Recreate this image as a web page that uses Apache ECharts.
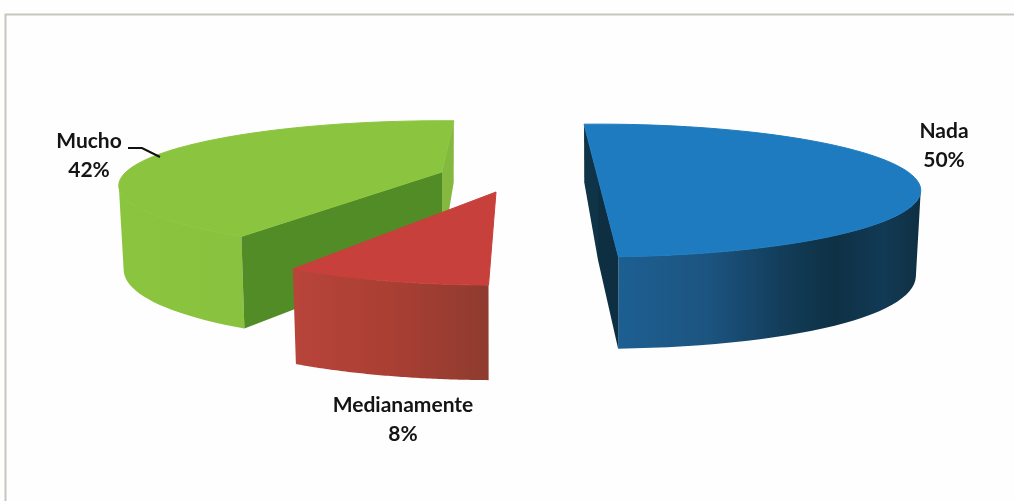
<!DOCTYPE html>
<html>
<head>
<meta charset="utf-8">
<style>html,body{margin:0;padding:0;background:#fefefe}#c{width:1014px;height:501px}</style>
<script src="https://cdn.jsdelivr.net/npm/echarts@6/dist/echarts.min.js"></script>
</head>
<body>
<div id="c"></div>
<script>
// data
var categories = ['Nada', 'Medianamente', 'Mucho'];
var values = [50, 8, 42];

// look of each slice (same order as categories)
var topColors = ['#1f7bbf', '#c7403b', '#8bc53f'];
var wallStops = [
  [[0, '#1d5f92'], [0.3, '#1c5480'], [0.55, '#123c58'], [0.72, '#0e3145'], [0.88, '#123a55'], [1, '#0f2f42']],
  [[0, '#b8443a'], [0.5, '#aa3f34'], [1, '#8f3b2f']],
  [[0, '#8bc53f'], [1, '#89c23e']]
];
var startFaceColors = ['#0f3347', null, '#528c26'];
var endFaceColors = ['#0e2f42', null, '#84b83e'];

// layout of the exploded 3D slices
var START_DEG = -93;
var apexX = [598, 496, 442];
var apexY = [178, 192, 172];
var radius = [317, 313, 316];
var depth = [64, 68, 62];
var persp = [0.188, 0.27, 0.21];
var rotDeg = [0, 4, 5.6];
var h0 = [82, 95, 80.6], h1 = [17, 0, 16], h2 = [-7, 0, -3];
var BOTTOM_X = 0.985;
var sliceZ = [1, 3, 2];

var labelX = [944, 403, 89];
var labelY = [146, 420, 156];
var leader = [[128, 148], [142, 148], [160, 157]];

var total = values.reduce(function (a, b) { return a + b; }, 0);

function project(i, t) {
  var s = Math.sin(t), w = 1 - persp[i] * s;
  return [radius[i] * Math.cos(t) / w, depth[i] * s / w];
}
function height(i, s) { return h0[i] + h1[i] * s + h2[i] * s * s; }
function topPt(i, t) { var p = project(i, t); return [apexX[i] + p[0], apexY[i] + p[1]]; }
function botPt(i, t) {
  var p = project(i, t), s = Math.sin(t);
  return [apexX[i] + BOTTOM_X * p[0], apexY[i] + p[1] + height(i, s)];
}
function poly(points, fill, z, stroke) {
  return { type: 'polygon', z2: z, shape: { points: points }, style: { fill: fill, stroke: stroke || null, lineWidth: 1 } };
}

function renderItem(params, api) {
  var i = params.dataIndex;
  var before = 0;
  for (var k = 0; k < i; k++) before += values[k];
  var deg = function (d) { return d * Math.PI / 180; };
  var t0 = deg(START_DEG + rotDeg[i] + before / total * 360);
  var t1 = t0 + deg(api.value(0) / total * 360);
  var N = 72, top = [], wTop = [], wBot = [];
  for (var n = 0; n <= N; n++) {
    var t = t0 + (t1 - t0) * n / N;
    top.push(topPt(i, t));
    if (Math.sin(t) >= persp[i]) { wTop.push(topPt(i, t)); wBot.push(botPt(i, t)); }
  }
  var apexT = [apexX[i], apexY[i]];
  var apexB = [apexX[i], apexY[i] + h0[i]];
  var base = sliceZ[i] * 10, kids = [];
  kids.push(poly(wTop.concat(wBot.slice().reverse()),
    new echarts.graphic.LinearGradient(0, 0, 1, 0, wallStops[i].map(function (c) {
      return { offset: c[0], color: c[1] };
    })), base));
  if (endFaceColors[i]) kids.push(poly([apexT, topPt(i, t1), botPt(i, t1), apexB], endFaceColors[i], base + 1));
  if (startFaceColors[i]) kids.push(poly([apexT, topPt(i, t0), botPt(i, t0), apexB], startFaceColors[i], base + 2));
  kids.push(poly([apexT].concat(top), topColors[i], base + 3, topColors[i]));
  kids.push({
    type: 'text', z2: 100,
    style: {
      x: labelX[i], y: labelY[i], align: 'center', verticalAlign: 'middle',
      text: categories[i] + '\n' + Math.round(api.value(0) / total * 100) + '%',
      fill: '#141414', font: 'bold 21px Lato', lineHeight: 29
    }
  });
  return { type: 'group', children: kids };
}

var chart = echarts.init(document.getElementById('c'), null, { renderer: 'canvas' });
chart.setOption({
  animation: false,
  backgroundColor: '#fefefe',
  tooltip: { show: false },
  graphic: [
    { type: 'rect', z: 0, shape: { x: 5.5, y: 14.5, width: 1020, height: 500 },
      style: { fill: 'transparent', stroke: '#c5c7bd', lineWidth: 2 } },
    { type: 'polyline', z: 50, shape: { points: leader },
      style: { fill: null, stroke: '#111', lineWidth: 2 } }
  ],
  series: [{
    type: 'custom',
    coordinateSystem: 'none',
    renderItem: renderItem,
    data: values.map(function (v) { return [v]; })
  }]
});
</script>
</body>
</html>
